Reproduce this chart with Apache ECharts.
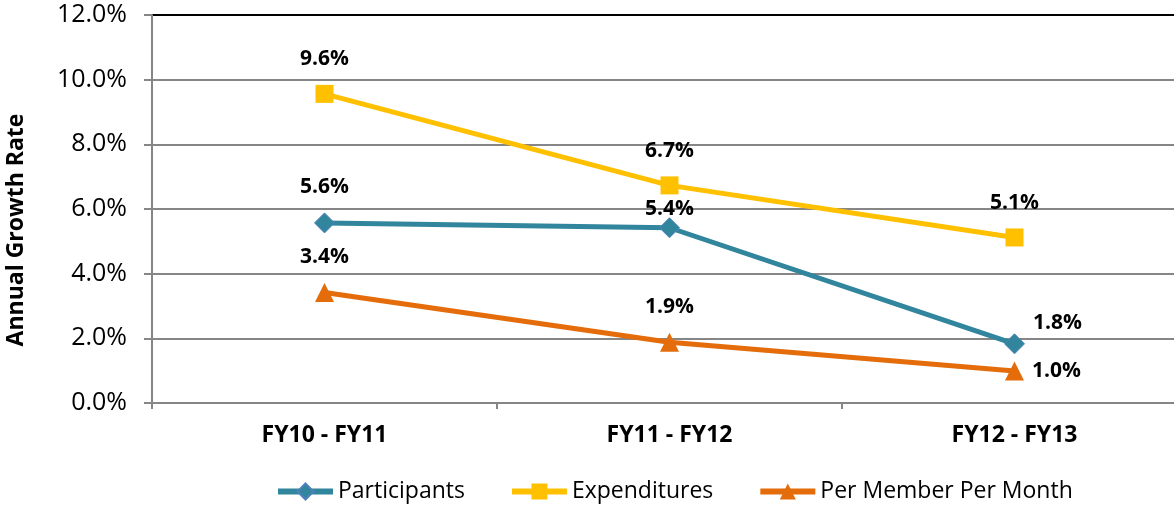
<!DOCTYPE html>
<html>
<head>
<meta charset="utf-8">
<script src="https://cdn.jsdelivr.net/npm/echarts@6/dist/echarts.min.js"></script>
<style>
  html, body { margin: 0; padding: 0; background: #fff; }
  #chart { width: 1174px; height: 506px; }
</style>
</head>
<body>
<div id="chart"></div>
<script>
// categories and values
var periods = ["FY10 - FY11", "FY11 - FY12", "FY12 - FY13"];
var participants = [5.57, 5.42, 1.83];
var expenditures = [9.56, 6.73, 5.12];
var perMemberPerMonth = [3.42, 1.88, 0.99];
var yTicks = [0, 2, 4, 6, 8, 10, 12];

var FONT = "Open Sans";

// labels sit above the point unless an override moves them
function labelled(values, overrides) {
  return values.map(function (v, i) {
    if (overrides && overrides[i]) {
      return { value: v, label: overrides[i] };
    }
    return v;
  });
}

var chart = echarts.init(document.getElementById("chart"));

var valueLabel = {
  show: true,
  position: "top",
  distance: 15,
  color: "#000",
  fontFamily: FONT,
  fontWeight: "bold",
  fontSize: 21,
  formatter: function (p) { return p.value.toFixed(1) + "%"; }
};

var option = {
  backgroundColor: "#fff",
  animation: false,
  // plot runs past the right edge of the picture, as in the reference
  grid: { left: 152, width: 1035, top: 15, bottom: 103, outerBoundsMode: "none" },
  legend: {
    bottom: -2,
    left: 270,
    itemWidth: 55,
    itemHeight: 20,
    itemGap: 44,
    lineStyle: { width: 6 },
    textStyle: { fontFamily: FONT, fontSize: 23, color: "#000" },
    data: ["Participants", "Expenditures", "Per Member Per Month"]
  },
  xAxis: {
    type: "category",
    data: periods,
    boundaryGap: true,
    axisLine: { lineStyle: { color: "#868686", width: 2 } },
    axisTick: { show: true, length: 6, lineStyle: { color: "#868686", width: 2 } },
    axisLabel: {
      margin: 21,
      color: "#000",
      fontFamily: FONT,
      fontWeight: "bold",
      fontSize: 23
    }
  },
  yAxis: {
    type: "value",
    min: yTicks[0],
    max: yTicks[yTicks.length - 1],
    interval: 2,
    name: "Annual Growth Rate",
    nameLocation: "middle",
    nameGap: 124,
    nameTextStyle: {
      fontFamily: FONT,
      fontWeight: "bold",
      fontSize: 23,
      color: "#000",
      padding: [0, 42, 0, 0]
    },
    axisLine: { show: true, lineStyle: { color: "#868686", width: 2 } },
    axisTick: { show: true, length: 8, lineStyle: { color: "#868686", width: 2 } },
    axisLabel: {
      margin: 25,
      color: "#000",
      fontFamily: FONT,
      fontSize: 25,
      formatter: function (v) { return v.toFixed(1) + "%"; }
    },
    splitLine: {
      show: true,
      lineStyle: {
        width: 2,
        color: ["#868686", "#868686", "#868686", "#868686", "#868686", "#868686", "#000"]
      }
    }
  },
  series: [
    {
      name: "Participants",
      type: "line",
      data: labelled(participants, {
        1: { offset: [0, 17] },
        2: { position: "right", distance: 8, offset: [0, -21] }
      }),
      color: "#31859C",
      symbol: "diamond",
      symbolSize: 20,
      lineStyle: { width: 5 },
      itemStyle: { color: "#31859C", borderColor: "#4F81BD", borderWidth: 1 },
      label: valueLabel,
      z: 3
    },
    {
      name: "Expenditures",
      type: "line",
      data: expenditures,
      color: "#FFC000",
      symbol: "rect",
      symbolSize: 18,
      lineStyle: { width: 5 },
      itemStyle: { color: "#FFC000" },
      label: valueLabel,
      z: 2
    },
    {
      name: "Per Member Per Month",
      type: "line",
      data: labelled(perMemberPerMonth, {
        2: { position: "right", distance: 8 }
      }),
      color: "#E46C0A",
      symbol: "triangle",
      symbolSize: 19,
      lineStyle: { width: 5 },
      itemStyle: { color: "#E46C0A" },
      label: valueLabel,
      z: 2
    }
  ]
};

chart.setOption(option);
</script>
</body>
</html>
